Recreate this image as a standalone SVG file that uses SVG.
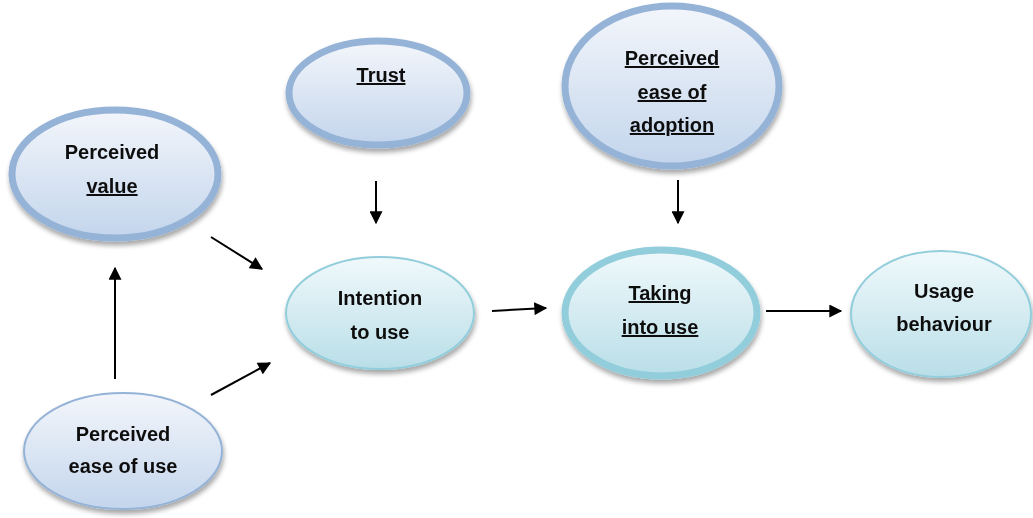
<svg xmlns="http://www.w3.org/2000/svg" width="1033" height="518" viewBox="0 0 1033 518">
<defs>
<linearGradient id="gBlue" x1="0" y1="0" x2="0" y2="1">
<stop offset="0" stop-color="#F3F6FB"/><stop offset="1" stop-color="#C3D5EC"/>
</linearGradient>
<linearGradient id="gCyan" x1="0" y1="0" x2="0" y2="1">
<stop offset="0" stop-color="#F0F9FB"/><stop offset="1" stop-color="#B9DEE8"/>
</linearGradient>
<filter id="sh" x="-10%" y="-10%" width="120%" height="130%">
<feGaussianBlur in="SourceAlpha" stdDeviation="2.5"/>
<feOffset dx="1" dy="4" result="b"/>
<feComponentTransfer><feFuncA type="linear" slope="0.35"/></feComponentTransfer>
<feMerge><feMergeNode/><feMergeNode in="SourceGraphic"/></feMerge>
</filter>
<marker id="ah" viewBox="0 0 10 10" refX="9" refY="5" markerWidth="7" markerHeight="6.5" markerUnits="strokeWidth" orient="auto">
<path d="M0,0 L10,5 L0,10 z" fill="#000"/>
</marker>
</defs>
<style>
.b{fill:url(#gBlue);stroke:#95B3D7}
.c{fill:url(#gCyan);stroke:#92CDDC}
.thick{stroke-width:7}
.thin{stroke-width:2}
text{font-family:"Liberation Sans",Arial,sans-serif;font-size:20px;font-weight:bold;fill:#111;text-anchor:middle}
.u{text-decoration:underline}
.conn line{stroke:#000;stroke-width:2;marker-end:url(#ah)}
</style>
<rect width="1033" height="518" fill="#fff"/>
<g id="perceived-value" filter="url(#sh)">
<ellipse class="b thick" cx="115" cy="174" rx="103" ry="64"/>
<text x="112" y="159">Perceived</text>
<text x="112" y="193" class="u">value</text>
</g>
<g id="trust" filter="url(#sh)">
<ellipse class="b thick" cx="378" cy="93" rx="89" ry="52"/>
<text x="381" y="82" class="u">Trust</text>
</g>
<g id="perceived-ease-of-adoption" filter="url(#sh)">
<ellipse class="b thick" cx="672" cy="86" rx="107" ry="80"/>
<text x="672" y="65" class="u">Perceived</text>
<text x="672" y="99" class="u">ease of</text>
<text x="672" y="132" class="u">adoption</text>
</g>
<g id="intention-to-use" filter="url(#sh)">
<ellipse class="c thin" cx="380" cy="313" rx="94" ry="56"/>
<text x="380" y="305">Intention</text>
<text x="380" y="339">to use</text>
</g>
<g id="taking-into-use" filter="url(#sh)">
<ellipse class="c thick" cx="661" cy="313" rx="96" ry="63"/>
<text x="660" y="300" class="u">Taking</text>
<text x="660" y="334" class="u">into use</text>
</g>
<g id="usage-behaviour" filter="url(#sh)">
<ellipse class="c thin" cx="941" cy="314" rx="90" ry="63"/>
<text x="944" y="298">Usage</text>
<text x="944" y="331">behaviour</text>
</g>
<g id="perceived-ease-of-use" filter="url(#sh)">
<ellipse class="b thin" cx="123" cy="451" rx="99" ry="58"/>
<text x="123" y="441">Perceived</text>
<text x="123" y="473">ease of use</text>
</g>
<g id="connectors" class="conn">
<line x1="376" y1="181" x2="376" y2="223"/>
<line x1="678" y1="180" x2="678" y2="223"/>
<line x1="211" y1="237" x2="262" y2="269"/>
<line x1="211" y1="395" x2="270" y2="363"/>
<line x1="115" y1="379" x2="115" y2="268"/>
<line x1="492" y1="311" x2="546" y2="308"/>
<line x1="766" y1="311" x2="841" y2="311"/>
</g>
</svg>
